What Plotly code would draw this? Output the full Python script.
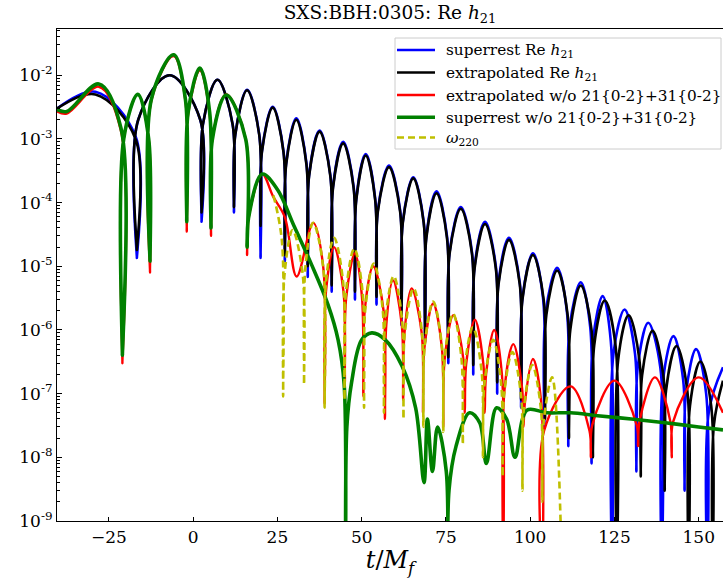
import plotly.graph_objects as go

# ---------------- data (t/M_f, |Re h21|) ----------------
# anchor points: alternating peaks and cusps (zero crossings) of each curve
black_t = [-40.4, -29.0, -16.7, -7.0, 2.5, 7.2, 12.1, 16.0, 20.0, 23.6, 27.2, 30.6, 34.0, 37.5,
           41.1, 44.5, 48.0, 51.2, 54.4, 58.1, 61.8, 65.3, 68.8, 72.2, 75.7, 79.4, 83.1, 86.6,
           90.2, 93.7, 97.3, 100.8, 104.4, 108.0, 111.5, 115.0, 118.6, 122.1, 125.7, 129.2,
           132.8, 136.3, 139.9, 143.4, 147.0, 150.5, 154.1, 157.2]
black_v = [3.0e-3, 5.0e-3, 1.8e-5, 1.0e-2, 7.0e-5, 8.5e-3, 8.5e-5, 5.8e-3, 4.3e-5, 3.1e-3,
           1.5e-5, 2.0e-3, 1.0e-5, 1.3e-3, 5.0e-6, 8.5e-4, 4.0e-6, 5.5e-4, 3.3e-6, 3.6e-4,
           1.55e-6, 2.4e-4, 8.3e-7, 1.4e-4, 3.7e-7, 8.0e-5, 2.8e-7, 4.6e-5, 1.5e-7, 2.6e-5,
           8.0e-8, 1.5e-5, 4.0e-8, 8.6e-6, 2.0e-8, 5.0e-6, 1.0e-8, 2.9e-6, 1.0e-10, 1.7e-6,
           5.0e-9, 9.7e-7, 3.0e-9, 5.6e-7, 1.0e-10, 3.2e-7, 1.0e-10, 1.6e-7]

blue_t = [-40.4, -29.0, -16.7, -7.0, 2.5, 7.2, 12.1, 16.0, 20.0, 23.6, 27.2, 30.6, 34.0, 37.5,
          41.1, 44.5, 48.0, 51.2, 54.4, 58.1, 61.8, 65.3, 68.8, 72.2, 75.7, 79.4, 83.1, 86.6,
          90.2, 93.7, 97.3, 100.8, 104.2, 108.0, 111.3, 115.0, 118.2, 121.5, 124.3, 128.0,
          131.5, 135.0, 139.0, 142.5, 145.8, 149.2, 152.6, 157.2]
blue_v = [3.0e-3, 5.5e-3, 1.35e-5, 1.0e-2, 5.0e-5, 8.5e-3, 7.0e-5, 5.9e-3, 1.35e-5, 3.2e-3,
          1.2e-5, 2.1e-3, 6.8e-6, 1.35e-3, 4.0e-6, 9.0e-4, 3.0e-6, 5.8e-4, 2.5e-6, 3.8e-4,
          1.2e-6, 2.5e-4, 6.5e-7, 1.5e-4, 3.0e-7, 8.5e-5, 2.0e-7, 5.0e-5, 1.0e-7, 2.8e-5,
          6.0e-8, 1.6e-5, 3.0e-8, 9.5e-6, 1.5e-8, 5.6e-6, 8.0e-9, 3.4e-6, 1.0e-10, 2.1e-6,
          6.0e-9, 1.3e-6, 1.0e-10, 8.0e-7, 3.0e-9, 5.0e-7, 1.0e-10, 2.6e-7]

red_t = [-40.4, -37.5, -28.0, -21.0, -16.4, -12.8, -5.8, -1.9, 2.0, 5.3, 9.8, 16.0, 20.5, 23.7,
         27.2, 30.7, 35.6, 39.0, 41.8, 45.0, 48.0, 50.5, 53.4, 56.9, 59.3, 62.3, 64.8, 68.2,
         71.2, 74.2, 77.2, 80.6, 83.6, 86.5, 89.3, 92.0, 95.0, 98.0, 100.8, 103.7, 112.0,
         118.0, 125.0, 132.0, 137.0, 142.0, 150.0, 157.2]
red_v = [2.7e-3, 2.5e-3, 6.6e-3, 3.0e-7, 5.0e-3, 8.0e-6, 2.0e-2, 3.5e-5, 1.2e-2, 3.0e-5,
         5.0e-3, 1.5e-5, 2.8e-4, 1.25e-4, 5.9e-5, 6.9e-6, 4.8e-5, 7.0e-8, 2.0e-5, 1.5e-7,
         1.6e-5, 9.0e-8, 1.0e-5, 4.0e-8, 6.0e-6, 8.0e-8, 4.5e-6, 5.0e-8, 2.6e-6, 3.0e-8,
         1.7e-6, 5.0e-8, 1.45e-6, 5.0e-8, 1.0e-6, 1.0e-10, 6.0e-7, 3.0e-8, 3.5e-7, 1.0e-10,
         1.3e-7, 1.0e-8, 1.6e-7, 1.5e-8, 1.8e-7, 1.0e-8, 1.8e-7, 5.0e-8]

green_t = [-40.4, -37.5, -28.0, -21.0, -16.4, -12.8, -5.8, -1.9, 2.0, 5.3, 9.8, 16.0, 20.5,
           25.0, 30.0, 35.0, 40.0, 43.0, 45.2, 47.0, 50.0, 53.0, 57.0, 62.0, 66.0, 68.5, 69.5,
           71.0, 72.5, 75.5, 78.0, 82.0, 85.0, 87.0, 90.0, 93.0, 95.5, 99.0, 105.0, 112.0,
           120.0, 130.0, 140.0, 150.0, 157.2]
green_v = [2.9e-3, 2.7e-3, 7.3e-3, 4.0e-7, 5.0e-3, 1.2e-5, 2.1e-2, 5.0e-5, 1.3e-2, 4.0e-5,
           4.9e-3, 2.0e-5, 2.8e-4, 1.6e-4, 4.2e-5, 1.1e-5, 2.5e-6, 7.0e-7, 1.0e-10, 1.5e-7,
           7.0e-7, 9.0e-7, 7.0e-7, 2.7e-7, 6.0e-8, 4.0e-9, 4.0e-8, 6.0e-9, 3.0e-8, 1.0e-10,
           1.5e-8, 5.0e-8, 3.5e-8, 8.0e-9, 6.0e-8, 4.0e-8, 1.0e-8, 5.5e-8, 5.0e-8, 5.0e-8,
           4.5e-8, 4.0e-8, 3.5e-8, 3.0e-8, 2.7e-8]

yellow_t = [23.8, 26.7, 29.5, 32.9, 35.6, 39.0, 41.8, 44.9, 47.8, 50.7, 53.6, 56.6, 59.5, 62.4,
            65.4, 68.3, 71.2, 74.2, 77.1, 80.0, 83.0, 86.0, 89.0, 91.8, 94.7, 97.7, 100.6,
            103.6, 106.5, 109.5]
yellow_v = [1.3e-4, 9.0e-8, 3.7e-5, 1.4e-7, 4.8e-5, 6.0e-8, 2.8e-5, 8.0e-8, 1.9e-5, 6.0e-8,
            1.1e-5, 5.0e-8, 7.0e-6, 4.0e-8, 4.5e-6, 3.0e-8, 2.8e-6, 2.5e-8, 1.8e-6, 1.6e-8,
            1.1e-6, 1.0e-8, 7.0e-7, 5.0e-9, 4.5e-7, 3.0e-9, 2.8e-7, 2.0e-9, 1.8e-7, 1.0e-10]

y_major = [1e-9, 1e-8, 1e-7, 1e-6, 1e-5, 1e-4, 1e-3, 1e-2]
y_major_text = ["10<sup>-9</sup>", "10<sup>-8</sup>", "10<sup>-7</sup>", "10<sup>-6</sup>",
                "10<sup>-5</sup>", "10<sup>-4</sup>", "10<sup>-3</sup>", "10<sup>-2</sup>"]
x_ticks = [-25, 0, 25, 50, 75, 100, 125, 150]
legend_labels = ["superrest Re <i>h</i><sub>21</sub>",
                 "extrapolated Re <i>h</i><sub>21</sub>",
                 "extrapolated w/o 21{0-2}+31{0-2}",
                 "superrest w/o 21{0-2}+31{0-2}",
                 "<i>ω</i><sub>220</sub>"]


def cusp_path(t, v):
    """Insert two shoulder points around each sharp cusp so the spline stays pointed."""
    xs, ys = [], []
    n = len(t)
    for i in range(n):
        if 0 < i < n - 1 and v[i] < 0.1 * min(v[i - 1], v[i + 1]):
            xs += [t[i] - 0.4, t[i], t[i] + 0.4]
            ys += [0.2 * v[i - 1], v[i], 0.2 * v[i + 1]]
        else:
            xs.append(t[i])
            ys.append(v[i])
    return xs, ys


FONT = "DejaVu Serif"
W, H = 723, 584
ML, MR, MT, MB = 57, 0, 29, 63
PW, PH = W - ML - MR, H - MT - MB


def px(x):
    return (x - ML) / PW


def py(y):
    return (H - MB - y) / PH


fig = go.Figure()
styles = [
    (blue_t, blue_v, "#0000ff", 2.6, "solid"),
    (black_t, black_v, "#000000", 2.6, "solid"),
    (red_t, red_v, "#ff0000", 2.4, "solid"),
    (green_t, green_v, "#008000", 3.6, "solid"),
    (yellow_t, yellow_v, "#bfbf00", 2.6, "7px,4px"),
]
for name, (t, v, col, w, dash) in zip(legend_labels, styles):
    xs, ys = cusp_path(t, v)
    fig.add_trace(go.Scatter(x=xs, y=ys, mode="lines", name=name, showlegend=False,
                             line=dict(color=col, width=w, dash=dash,
                                       shape="spline", smoothing=1.0)))

# legend drawn as a framed box with line samples and text
shapes = [dict(type="rect", xref="paper", yref="paper", x0=px(395), x1=px(721),
               y0=py(149), y1=py(38), line=dict(color="#cccccc", width=1),
               fillcolor="rgba(255,255,255,0.85)", layer="above")]
annotations = []
row_y = [50, 72.5, 95, 117.3, 137.5]
for (t, v, col, w, dash), label, ry in zip(styles, legend_labels, row_y):
    shapes.append(dict(type="line", xref="paper", yref="paper", x0=px(397), x1=px(435),
                       y0=py(ry), y1=py(ry), line=dict(color=col, width=w, dash=dash),
                       layer="above"))
    annotations.append(dict(xref="paper", yref="paper", x=px(444), y=py(ry + 1),
                            xanchor="left", yanchor="middle", text=label, showarrow=False,
                            font=dict(family=FONT, size=15.3, color="black")))

fig.update_layout(
    width=W, height=H,
    margin=dict(l=ML, r=MR, t=MT, b=MB),
    paper_bgcolor="white", plot_bgcolor="white",
    font=dict(family=FONT, size=16, color="black"),
    title=dict(text="SXS:BBH:0305: Re <i>h</i><sub>21</sub>", x=0.5, xref="paper",
               y=1 - 13 / H, yref="container", yanchor="middle", xanchor="center",
               font=dict(family=FONT, size=18.5)),
    showlegend=False,
    shapes=shapes,
    annotations=annotations,
)
fig.update_xaxes(range=[-40.4, 157.2], tickvals=x_ticks, ticks="inside", ticklen=4,
                 tickcolor="black", showline=True, linecolor="black", linewidth=1.2,
                 mirror=True, showgrid=False, zeroline=False,
                 tickfont=dict(family=FONT, size=17),
                 title=dict(text="<i>t</i>/<i>M<sub>f</sub></i>", font=dict(family=FONT, size=24),
                            standoff=2))
minor_vals = [m * 10.0 ** e for e in range(-9, -1) for m in range(2, 10)]
fig.update_yaxes(type="log", range=[-9, -1.274], tickvals=y_major, ticktext=y_major_text,
                 ticks="inside", ticklen=5, tickcolor="black", showline=True, linecolor="black",
                 linewidth=1.2, showgrid=False, zeroline=False,
                 tickfont=dict(family=FONT, size=17),
                 minor=dict(tickvals=minor_vals, ticks="inside", ticklen=2.5, tickcolor="black"))

fig.write_html("out.html")
